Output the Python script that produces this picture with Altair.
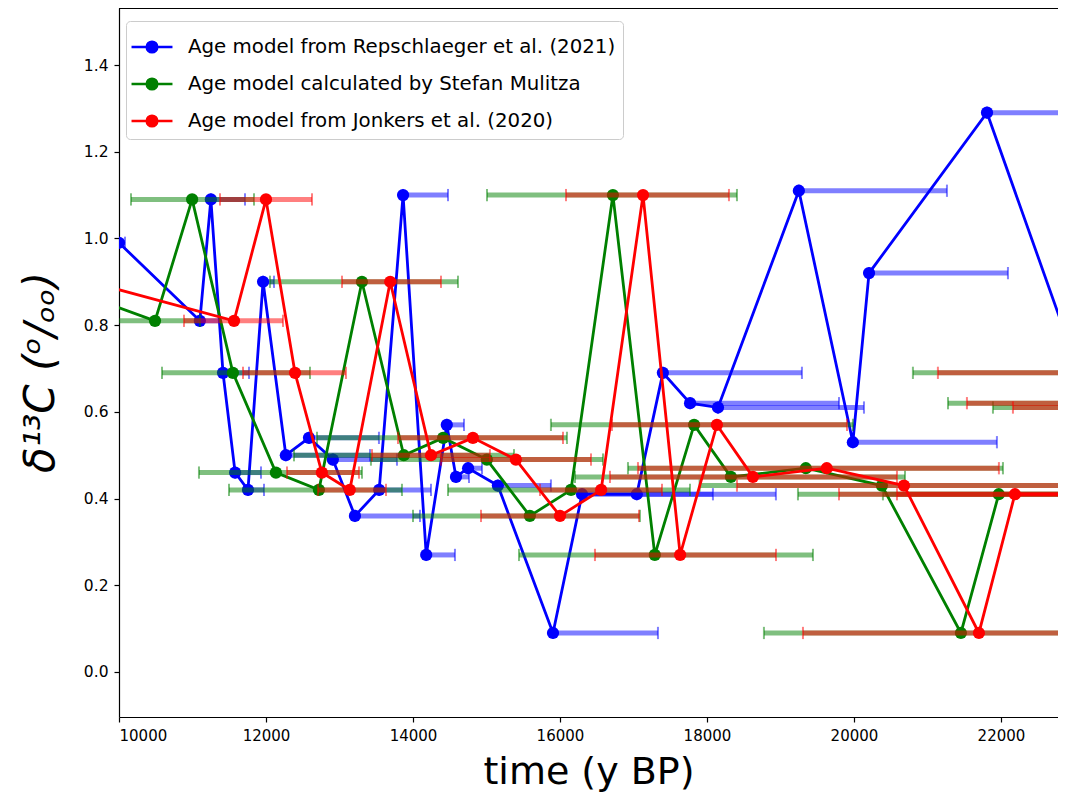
import altair as alt
import pandas as pd

# ---------------- data ----------------
D13C = [0.99, 0.81, 1.09, 0.69, 0.46, 0.42, 0.90, 0.50, 0.54, 0.49, 0.36, 0.42,
        1.10, 0.27, 0.57, 0.45, 0.47, 0.43, 0.09, 0.41, 0.41, 0.69, 0.62, 0.61,
        1.11, 0.53, 0.92, 1.29, 0.62]

# Age model from Repschlaeger et al. (2021)
REP_AGE = [10000, 11100, 11250, 11415, 11580, 11755, 11960, 12270, 12585, 12910,
           13210, 13540, 13865, 14180, 14460, 14585, 14750, 15155, 15905, 16300,
           17045, 17400, 17770, 18150, 19250, 19985, 20205, 21810, 23210]
REP_LO = REP_AGE
REP_HI = [10082, 11374, 11714, 11769, 11932, 11973, 12109, 13415, 13537, 13782,
          14095, 14245, 14476, 14571, 14694, 14762, 14939, 15877, 17333, 18081,
          18938, 19292, 19796, 20136, 21265, 21945, 22095, 23750, 25200]

# Age model calculated by Stefan Mulitza
MUL_AGE = [7550, 10490, 10995, 11550, 12135, 12720, 13305, 13875, 14410, 15005,
           15590, 16150, 16720, 17290, 17825, 18325, 19345, 20380, 21455, 21970,
           23120, 23600, 24100, 24700]
MUL_LO = [6900, 9878, 10163, 10585, 11088, 11497, 12054, 12381, 12694, 13428,
          14000, 14476, 15007, 15442, 15877, 16204, 16925, 17900, 18775, 19238,
          20394, 20802, 21279, 21891]
MUL_HI = [8200, 11102, 11837, 12599, 13306, 13850, 14612, 15374, 16095, 16585,
          17088, 17769, 18408, 19442, 19986, 20694, 22027, 22950, 24135, 24707,
          25846, 26398, 26921, 27509]

# Age model from Jonkers et al. (2020)
JON_AGE = [7630, 11565, 12000, 12395, 12760, 13140, 13690, 14245, 14815, 15400,
           16000, 16560, 17130, 17635, 18135, 18625, 19630, 20680, 21700, 22190,
           23050, 23400, 23800, 24400]
JON_LO = [7100, 10884, 11374, 11687, 12286, 12707, 13034, 13442, 13796, 14381,
          14925, 15728, 16082, 16476, 16707, 16680, 17061, 18408, 19306, 19796,
          20585, 21142, 21537, 22163]
JON_HI = [8150, 12231, 12626, 13088, 13265, 13633, 14381, 15047, 16041, 16422,
          17075, 17388, 18299, 18939, 19905, 20585, 21972, 22952, 24095, 24585,
          25515, 25660, 26060, 26640]

NAMES = ["Age model from Repschlaeger et al. (2021)",
         "Age model calculated by Stefan Mulitza",
         "Age model from Jonkers et al. (2020)"]
COLORS = ["#0000ff", "#008000", "#ff0000"]

X_TICKS = [10000, 12000, 14000, 16000, 18000, 20000, 22000]
Y_TICKS = [0.0, 0.2, 0.4, 0.6, 0.8, 1.0, 1.2, 1.4]
X_DOMAIN = [10000, 22776]
Y_DOMAIN = [-0.1038, 1.5315]

W, H = 939, 709
FONT = "DejaVu Sans"


def frame(name, age, lo, hi):
    n = len(age)
    return pd.DataFrame({"model": name, "age": age, "lo": lo, "hi": hi,
                         "d13c": D13C[:n], "idx": list(range(n))})


frames = [frame(NAMES[0], REP_AGE, REP_LO, REP_HI),
          frame(NAMES[1], MUL_AGE, MUL_LO, MUL_HI),
          frame(NAMES[2], JON_AGE, JON_LO, JON_HI)]

xscale = alt.Scale(domain=X_DOMAIN, nice=False, zero=False)
yscale = alt.Scale(domain=Y_DOMAIN, nice=False, zero=False)
xaxis = alt.Axis(values=X_TICKS, format="d", grid=False, title="time (y BP)",
                 domainColor="black", domainWidth=1.2, tickColor="black",
                 tickWidth=1.2, tickSize=5, labelFont=FONT, labelFontSize=15,
                 labelColor="black", labelPadding=6, titleFont=FONT,
                 titleFontSize=38, titleFontWeight="normal", titleColor="black",
                 titleY=66, titleBaseline="alphabetic")
yaxis = alt.Axis(values=Y_TICKS, format=".1f", grid=False,
                 title="δ¹³C   (ᵒ/ₒₒ)",
                 domainColor="black", domainWidth=1.2, tickColor="black",
                 tickWidth=1.2, tickSize=5, labelFont=FONT, labelFontSize=15.5,
                 labelColor="black", labelPadding=6, titleFont=FONT,
                 titleFontSize=42, titleFontWeight="normal", titleColor="black",
                 titleFontStyle="italic",
                 titleAngle=270, titleX=-79, titleY=364,
                 titleAlign="center", titleBaseline="middle")


def X(field):
    return alt.X(field, type="quantitative", scale=xscale, axis=xaxis)


def Y():
    return alt.Y("d13c", type="quantitative", scale=yscale, axis=yaxis)


layers = []
for df, col in zip(frames, COLORS):
    bars = alt.Chart(df).mark_rule(color=col, opacity=0.5, strokeWidth=5,
                                   clip=True).encode(x=X("lo"), x2="hi:Q", y=Y())
    caps = alt.Chart(df).transform_fold(["lo", "hi"], as_=["end", "cap"]).mark_point(
        shape="M0,-1L0,1", size=150, filled=False, stroke=col, strokeWidth=2,
        opacity=0.5, clip=True).encode(x=X("cap"), y=Y())
    line = alt.Chart(df).mark_line(color=col, strokeWidth=2.8, clip=True).encode(
        x=X("age"), y=Y(), order="idx:Q")
    pts = alt.Chart(df).mark_point(filled=True, color=col, size=150, opacity=1,
                                   clip=True).encode(x=X("age"), y=Y())
    layers += [bars, caps, line, pts]

# top spine
top = alt.Chart(frames[0]).mark_rule(color="black", strokeWidth=1.2).encode(
    x=alt.value(0), x2=alt.value(W), y=alt.value(0))
layers.append(top)

# legend (no marks drawn, the scale domain gives the entries)
cscale = alt.Scale(domain=NAMES, range=COLORS)
leg = alt.Legend(title=None, orient="none", legendX=7, legendY=13,
                 symbolType="M-1.17,0L1.17,0M0.3,0A0.3,0.3,0,1,1,-0.3,0A0.3,0.3,0,1,1,0.3,0Z",
                 symbolSize=1225, symbolStrokeWidth=2.6, labelFont=FONT,
                 labelFontSize=19.8, labelColor="black", labelOffset=17,
                 labelLimit=0, rowPadding=7, padding=7, fillColor="white",
                 strokeColor="#cccccc", cornerRadius=4)
legend_layer = alt.Chart(pd.concat(frames)).transform_filter("datum.idx < 0").mark_point(
    filled=True, opacity=1).encode(
    x=X("age"), y=Y(),
    fill=alt.Fill("model:N", scale=cscale, legend=leg),
    stroke=alt.Stroke("model:N", scale=cscale, legend=leg))
layers.append(legend_layer)

chart = alt.layer(*layers).properties(
    width=W, height=H,
    padding={"left": 111, "top": 0, "right": 0, "bottom": 77},
    autosize=alt.AutoSizeParams(type="none"),
    background="white",
).configure_view(stroke=None)

chart.save("out.html", embed_options={"renderer": "svg", "actions": False})
